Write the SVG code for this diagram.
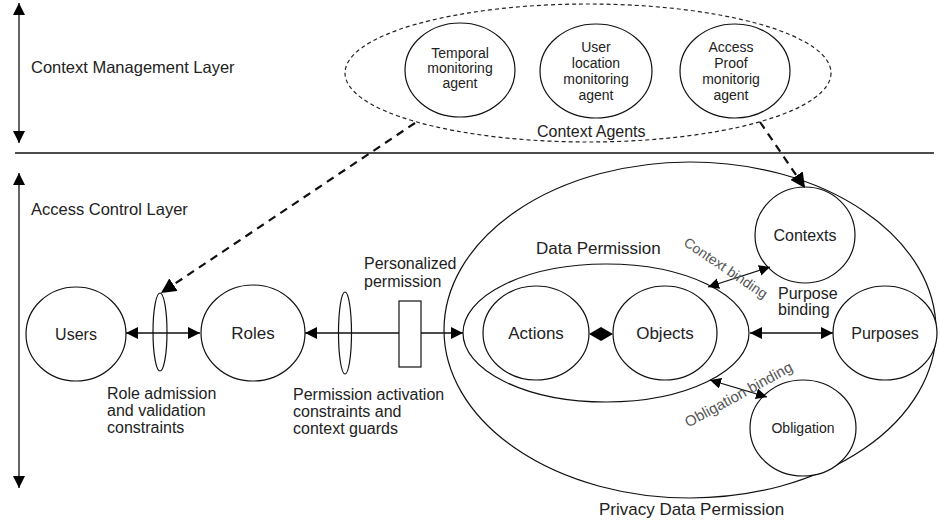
<svg xmlns="http://www.w3.org/2000/svg" width="940" height="525" viewBox="0 0 940 525">
<defs>
<style>
text{font-family:"Liberation Sans",Arial,sans-serif;fill:#222}
.n{fill:#fff;stroke:#111;stroke-width:1.2}
.c{fill:none;stroke:#111;stroke-width:1.3}
.d{fill:none;stroke:#111;stroke-width:2.2;stroke-dasharray:8,6}
.m{text-anchor:middle}
.s14{font-size:14px}
.s16{font-size:16px}
.s17{font-size:17px}
.rot{font-size:14px;fill:#555}
</style>
<marker id="ah" viewBox="0 0 12 12" refX="12" refY="6" markerWidth="12" markerHeight="12" markerUnits="userSpaceOnUse" orient="auto-start-reverse"><path d="M0,0 L12,6 L0,12 z" fill="#000"/></marker>
<marker id="ahs" viewBox="0 0 12 12" refX="12" refY="6" markerWidth="11" markerHeight="11" markerUnits="userSpaceOnUse" orient="auto-start-reverse"><path d="M0,0 L12,6 L0,12 z" fill="#000"/></marker>
<marker id="ahd" viewBox="0 0 14 14" refX="14" refY="7" markerWidth="15" markerHeight="15" markerUnits="userSpaceOnUse" orient="auto"><path d="M0,0 L14,7 L0,14 z" fill="#000"/></marker>
</defs>
<rect width="940" height="525" fill="#fff"/>

<g id="layers">
<line x1="19" y1="3" x2="19" y2="143" class="c" marker-start="url(#ah)" marker-end="url(#ah)"/>
<text x="31" y="73" style="font-size:16.5px">Context Management Layer</text>
<line x1="15" y1="153" x2="934" y2="153" stroke="#111" stroke-width="1.5"/>
<line x1="19" y1="173" x2="19" y2="488" class="c" marker-start="url(#ah)" marker-end="url(#ah)"/>
<text x="31" y="215" style="font-size:16.5px">Access Control Layer</text>
</g>

<g id="context-agents">
<ellipse cx="588" cy="73" rx="243" ry="69" fill="none" stroke="#222" stroke-width="1.2" stroke-dasharray="4,3"/>
<text x="537" y="137" class="s16">Context Agents</text>
</g>
<g id="temporal-agent">
<ellipse cx="460" cy="70" rx="55" ry="47" class="n"/>
<text class="m s14" x="460" y="58">Temporal</text>
<text class="m s14" x="460" y="73">monitoring</text>
<text class="m s14" x="460" y="88">agent</text>
</g>
<g id="location-agent">
<ellipse cx="596" cy="71" rx="56" ry="47" class="n"/>
<text class="m s14" x="596" y="52">User</text>
<text class="m s14" x="596" y="68">location</text>
<text class="m s14" x="596" y="84">monitoring</text>
<text class="m s14" x="596" y="100">agent</text>
</g>
<g id="access-proof-agent">
<ellipse cx="735" cy="71" rx="55" ry="47" class="n"/>
<text class="m s14" x="731" y="52">Access</text>
<text class="m s14" x="731" y="68">Proof</text>
<text class="m s14" x="731" y="84">monitorig</text>
<text class="m s14" x="731" y="100">agent</text>
</g>

<g id="privacy-data-permission">
<ellipse cx="690" cy="330" rx="246" ry="168" class="n"/>
<text x="599" y="515" class="s17">Privacy Data Permission</text>
</g>
<g id="data-permission">
<ellipse cx="606" cy="333" rx="143" ry="69" class="n"/>
<text x="536" y="254" class="s17">Data Permission</text>
</g>
<g id="users">
<ellipse cx="76" cy="334" rx="50" ry="47" class="n"/>
<text class="m s16" x="76" y="340">Users</text>
</g>
<g id="roles">
<ellipse cx="253" cy="333" rx="52" ry="48" class="n"/>
<text class="m s17" x="253" y="339">Roles</text>
</g>
<g id="actions">
<ellipse cx="536" cy="333" rx="53" ry="47" class="n"/>
<text class="m s17" x="536" y="339">Actions</text>
</g>
<g id="objects">
<ellipse cx="665" cy="333" rx="52" ry="47" class="n"/>
<text class="m s17" x="665" y="339">Objects</text>
</g>
<g id="contexts">
<ellipse cx="805" cy="235" rx="50" ry="48" class="n"/>
<text class="m s16" x="805" y="241">Contexts</text>
</g>
<g id="purposes">
<ellipse cx="885" cy="333" rx="52" ry="47" class="n"/>
<text class="m s16" x="885" y="339">Purposes</text>
</g>
<g id="obligation">
<ellipse cx="803" cy="428" rx="53" ry="48" class="n"/>
<text class="m s14" x="803" y="433">Obligation</text>
</g>

<g id="connectors">
<line x1="126" y1="333" x2="200" y2="333" class="c" marker-start="url(#ah)" marker-end="url(#ah)"/>
<line x1="305" y1="333" x2="399" y2="333" class="c" marker-start="url(#ah)"/>
<line x1="421" y1="333" x2="463" y2="333" class="c" marker-end="url(#ah)"/>
<polygon points="589,334 601,327 613,334 601,341" fill="#000"/>
<line x1="708" y1="287" x2="770" y2="267" class="c" marker-start="url(#ahs)" marker-end="url(#ahs)"/>
<line x1="750" y1="333" x2="833" y2="333" class="c" marker-start="url(#ah)" marker-end="url(#ah)"/>
<line x1="710" y1="380" x2="767" y2="397" class="c" marker-start="url(#ahs)" marker-end="url(#ahs)"/>
<line x1="415" y1="123" x2="161" y2="293" class="d" marker-end="url(#ahd)"/>
<line x1="760" y1="122" x2="805" y2="188" class="d" marker-end="url(#ahd)"/>
<text class="m rot" transform="translate(723,272) rotate(34)">Context binding</text>
<text x="778" y="299" class="s16">Purpose</text>
<text x="778" y="315" class="s16">binding</text>
<text class="m rot" style="font-size:15px" transform="translate(741,399) rotate(-28.5)">Obligation binding</text>
</g>

<g id="role-admission-guard">
<ellipse cx="160" cy="332" rx="7" ry="39" class="n" style="fill:none"/>
<text x="107" y="399" class="s16">Role admission</text>
<text x="107" y="416" class="s16">and validation</text>
<text x="107" y="433" class="s16">constraints</text>
</g>
<g id="permission-activation-guard">
<ellipse cx="345" cy="333" rx="6.5" ry="41" class="n" style="fill:none"/>
<text x="293" y="400" class="s16">Permission activation</text>
<text x="293" y="417" class="s16">constraints and</text>
<text x="293" y="434" class="s16">context guards</text>
</g>
<g id="personalized-permission">
<rect x="399" y="301" width="22" height="66" class="n"/>
<text x="364" y="269" class="s16">Personalized</text>
<text x="364" y="287" class="s16">permission</text>
</g>
</svg>
